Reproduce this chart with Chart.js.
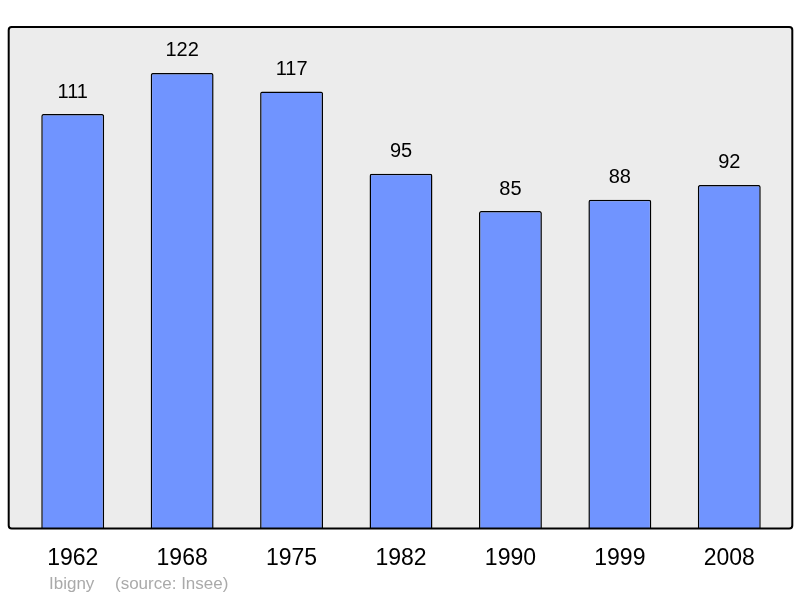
<!DOCTYPE html>
<html><head><meta charset="utf-8">
<script src="https://cdn.jsdelivr.net/npm/chart.js@4/dist/chart.umd.min.js"></script>
<style>html,body{margin:0;padding:0;background:#fff}#w{width:800px;height:598px}</style>
</head><body><div id="w"><canvas id="c" width="800" height="598"></canvas></div>
<script>
const years = ["1962","1968","1975","1982","1990","1999","2008"];
const population = [111,122,117,95,85,88,92];
const placeName = "Ibigny";
const sourceText = "(source: Insee)";
const yMax = 134.3;

const FONT = "'Liberation Sans', Arial, sans-serif";

const bgPlugin = {
  id: 'bg',
  beforeDraw(chart) {
    const {ctx, chartArea: a} = chart;
    const l = a.left - 9.3, r = a.right + 8.3, t = a.top, b = a.bottom;
    ctx.save();
    ctx.beginPath();
    ctx.roundRect(l, t, r - l, b - t, 3);
    ctx.fillStyle = '#ececec';
    ctx.fill();
    ctx.restore();
  },
  afterDatasetsDraw(chart) {
    const {ctx, chartArea: a} = chart;
    const l = a.left - 9.3, r = a.right + 8.3, t = a.top, b = a.bottom;
    ctx.save();
    ctx.beginPath();
    ctx.roundRect(l, t, r - l, b - t, 3);
    ctx.lineWidth = 2;
    ctx.strokeStyle = '#000';
    ctx.stroke();
    // value labels
    const meta = chart.getDatasetMeta(0);
    ctx.fillStyle = '#000';
    ctx.font = '20px ' + FONT;
    ctx.textAlign = 'center';
    ctx.textBaseline = 'middle';
    meta.data.forEach((bar, i) => {
      ctx.fillText(String(population[i]), bar.x, bar.y - 22);
    });
    // footer
    ctx.fillStyle = '#aaaaaa';
    ctx.font = '17px ' + FONT;
    ctx.textAlign = 'left';
    ctx.fillText(placeName, 49, 584);
    ctx.fillText(sourceText, 115, 584);
    ctx.restore();
  }
};

new Chart(document.getElementById('c'), {
  type: 'bar',
  data: {
    labels: years,
    datasets: [{
      data: population,
      backgroundColor: '#7094ff',
      borderColor: '#000',
      borderWidth: 1.5,
      borderRadius: {topLeft: 2, topRight: 2, bottomLeft: 0, bottomRight: 0},
      borderSkipped: 'bottom',
      categoryPercentage: 1,
      barPercentage: 0.575
    }]
  },
  options: {
    responsive: false,
    animation: false,
    devicePixelRatio: 1,
    layout: {padding: {left: 18, right: 16, top: 27, bottom: 18}},
    plugins: {legend: {display: false}, tooltip: {enabled: false}},
    scales: {
      x: {
        grid: {display: false},
        border: {display: false},
        ticks: {color: '#000', font: {size: 23, family: FONT}, padding: 8, maxRotation: 0}
      },
      y: {
        display: false,
        min: 0,
        max: yMax
      }
    }
  },
  plugins: [bgPlugin]
});
</script>
</body></html>
